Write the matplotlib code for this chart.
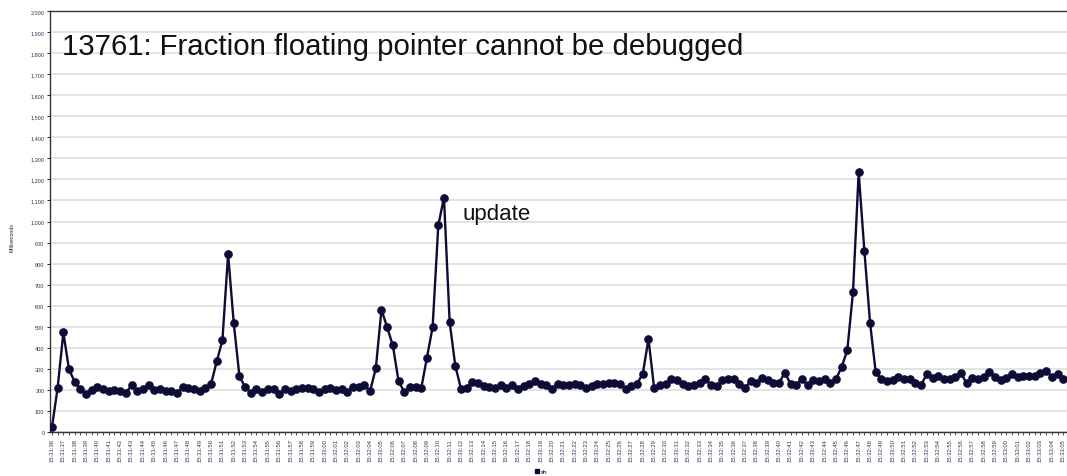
import numpy as np
import matplotlib
matplotlib.use('Agg')
import matplotlib.pyplot as plt
from matplotlib.ticker import StrMethodFormatter, MultipleLocator
from matplotlib.lines import Line2D

# ---------- data (ms per sample) ----------
ms = [
    24, 211, 473, 297, 238, 205, 179, 200, 216, 206,
    197, 200, 197, 186, 221, 197, 202, 222, 200, 205,
    197, 194, 186, 213, 210, 206, 197, 208, 229, 335,
    436, 845, 516, 265, 213, 187, 203, 192, 205, 202,
    181, 202, 197, 203, 211, 210, 202, 189, 203, 208,
    198, 203, 192, 216, 213, 221, 195, 302, 581, 497,
    411, 243, 190, 213, 214, 208, 352, 498, 981, 1114,
    522, 314, 205, 211, 238, 232, 219, 216, 208, 224,
    211, 224, 206, 217, 228, 243, 227, 224, 205, 230,
    221, 224, 227, 224, 211, 217, 227, 227, 233, 233,
    227, 206, 217, 230, 277, 442, 208, 224, 228, 252,
    245, 230, 219, 221, 235, 252, 224, 217, 245, 252,
    252, 230, 208, 243, 235, 256, 245, 235, 235, 281,
    230, 224, 251, 224, 246, 240, 254, 235, 251, 308,
    389, 664, 1233, 862, 520, 283, 251, 240, 248, 262,
    252, 251, 233, 225, 274, 256, 268, 254, 252, 262,
    279, 232, 256, 252, 262, 284, 261, 248, 256, 274,
    263, 268, 265, 266, 281, 290, 262, 274, 251,
]

# one label every second sample: 15:31:36 ... 15:33:05
START_SEC = 31 * 60 + 36
labels = [f'15:{(START_SEC + k) // 60:02d}:{(START_SEC + k) % 60:02d}' for k in range(90)]

TITLE = '13761: Fraction floating pointer cannot be debugged'
NOTE = 'update'
SERIES = 'sh'

# ---------- figure ----------
W, H = 1067, 477
fig = plt.figure(figsize=(W / 100, H / 100), dpi=100)
plt.rcParams['font.family'] = ['Liberation Sans', 'DejaVu Sans']

# plot area in pixels: left 50, top 12, bottom 433, runs off the right edge
ax = fig.add_axes([50 / W, (H - 433) / H, 1020 / W, 421 / H])

navy = '#0c0c36'
x = np.arange(len(ms))
ax.plot(x, ms, color=navy, lw=1.7, marker='o', ms=5.2, mfc=navy, mec=navy, zorder=3)

ax.set_ylim(0, 2000)
ax.set_xlim(-0.35, 179.2)
ax.yaxis.set_major_locator(MultipleLocator(100))
ax.yaxis.set_major_formatter(StrMethodFormatter('{x:,.0f}'))
ax.grid(axis='y', color='#e0e0e0', lw=1.3, zorder=0)
ax.set_axisbelow(True)

ax.set_xticks(x, minor=True)
ax.set_xticks(x[::2])
ax.set_xticklabels(labels, rotation=90, fontsize=4.2, color='#333355')
ax.tick_params(axis='x', which='both', length=2.5, width=0.6, pad=2, color='#333333')
ax.tick_params(axis='y', length=2.5, width=0.6, pad=1.5, labelsize=4, labelcolor='#333355')

for side in ['left', 'bottom', 'top']:
    ax.spines[side].set_color('#333333')
    ax.spines[side].set_linewidth(1.0)
ax.spines['right'].set_visible(False)

fig.text(12 / W, 1 - 238 / H, 'Milliseconds', rotation=90, fontsize=3.8,
         ha='center', va='center', color='#222222')

fig.text(62 / W, 1 - 55 / H, TITLE, fontsize=21.2, ha='left', va='baseline', color='#111111')
fig.text(462 / W, 1 - 220 / H, NOTE, fontsize=16, ha='left', va='baseline', color='#111111')

handle = Line2D([], [], ls='none', marker='s', ms=2.5, color=navy)
fig.legend([handle], [SERIES], loc='center', bbox_to_anchor=(541 / W, 1 - 472 / H),
           fontsize=4.5, frameon=False, handlelength=0.6, handletextpad=0.4, borderpad=0)

fig.savefig('out.png', dpi=100)
